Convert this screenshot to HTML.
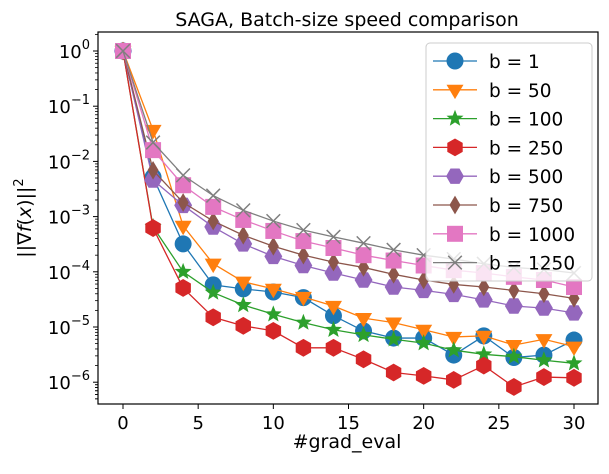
<!DOCTYPE html>
<html><head><meta charset="utf-8"><style>
body{margin:0;background:#fff;}
svg{font-family:"DejaVu Sans","Liberation Sans",sans-serif;}
</style></head><body>
<svg id="chart" width="609" height="469" viewBox="0 0 609 469" xmlns="http://www.w3.org/2000/svg">
<rect width="609" height="469" fill="#fff"/>
<text x="347" y="26" font-size="19" text-anchor="middle">SAGA, Batch-size speed comparison</text>
<text x="347" y="448" font-size="19" text-anchor="middle">#grad_eval</text>
<text transform="translate(31,218) rotate(-90)" font-size="19" text-anchor="middle">||∇<tspan font-style="italic">f</tspan>(<tspan font-style="italic">x</tspan>)||<tspan dy="-8" font-size="13">2</tspan></text>
<g id="axes"></g>
<g id="series"></g>
<g id="legend"></g>
</svg>
<script>
const xs = [0,2,4,6,8,10,12,14,16,18,20,22,24,26,28,30];
const labels = ["b = 1","b = 50","b = 100","b = 250","b = 500","b = 750","b = 1000","b = 1250"];
const s1 = [1,5.2e-3,3.2e-4,5.8e-5,4.9e-5,4.3e-5,3.4e-5,1.6e-5,8.5e-6,6.3e-6,6.3e-6,3.1e-6,6.9e-6,2.8e-6,3.1e-6,5.8e-6];
const s50 = [1,3.7e-2,6.8e-4,1.4e-4,6.6e-5,4.9e-5,3.5e-5,2.4e-5,1.45e-5,1.2e-5,8.9e-6,6.6e-6,6.9e-6,4.7e-6,6.0e-6,4.4e-6];
const s100 = [1,6.5e-4,1.0e-4,4.2e-5,2.5e-5,1.7e-5,1.2e-5,8.9e-6,7.2e-6,6.0e-6,5.1e-6,3.8e-6,3.2e-6,2.9e-6,2.5e-6,2.2e-6];
const s250 = [1,6.2e-4,5.1e-5,1.5e-5,1.05e-5,8.5e-6,4.2e-6,4.2e-6,2.6e-6,1.5e-6,1.3e-6,1.1e-6,2.0e-6,8.2e-7,1.24e-6,1.2e-6];
const s500 = [1,4.6e-3,1.6e-3,6.5e-4,3.2e-4,1.9e-4,1.3e-4,9.5e-5,7.1e-5,5.3e-5,4.6e-5,3.9e-5,3.1e-5,2.4e-5,2.2e-5,1.8e-5];
const s750 = [1,6.9e-3,1.8e-3,8.3e-4,4.6e-4,2.9e-4,2.0e-4,1.5e-4,1.2e-4,9.0e-5,7.1e-5,5.9e-5,5.3e-5,4.6e-5,4.0e-5,3.3e-5];
const s1000 = [1,1.6e-2,3.7e-3,1.5e-3,8.7e-4,5.5e-4,3.6e-4,2.7e-4,2.0e-4,1.6e-4,1.3e-4,1.07e-4,9.5e-5,8.1e-5,7.1e-5,5.3e-5];
const s1250 = [1,2.2e-2,5.6e-3,2.4e-3,1.3e-3,8.3e-4,5.7e-4,4.3e-4,3.3e-4,2.5e-4,2.0e-4,1.7e-4,1.4e-4,1.2e-4,1.1e-4,9.5e-5];
const xTicks = [0,5,10,15,20,25,30];
const yTickExps = [0,-1,-2,-3,-4,-5,-6];

const NS="http://www.w3.org/2000/svg";
const L=98,R=598,T=32,B=404;
function sx(v){return 123+(v-0)*(574-123)/30;}
function sy(v){return 51-Math.log10(v)*55.2;}
function mk(tag,attrs,parent){const e=document.createElementNS(NS,tag);for(const k in attrs)e.setAttribute(k,attrs[k]);parent.appendChild(e);return e;}

const axes=document.getElementById('axes');
const frame=mk('rect',{x:L,y:T,width:R-L,height:B-T,fill:'none',stroke:'#000','stroke-width':1.2},axes);


xTicks.forEach(t=>{
  const x=sx(t);
  const tk=mk('line',{x1:x,x2:x,y1:B,y2:B+5,stroke:'#000'},axes);
  
  
  const tx=mk('text',{x:x,y:B+25,'font-size':18,'text-anchor':'middle'},axes);
  tx.textContent=t;
  
  
});
yTickExps.forEach(e=>{
  const y=sy(Math.pow(10,e));
  const tk=mk('line',{x1:L-5,x2:L,y1:y,y2:y,stroke:'#000'},axes);
  
  
  const tx=mk('text',{x:L-8,y:y+7,'font-size':18,'text-anchor':'end'},axes);
  tx.innerHTML='10<tspan dy="-9" font-size="13">'+(e<0?'−'+(-e):e)+'</tspan>';
  
  
  for(let m=2;m<=9;m++){
    const yy=sy(m*Math.pow(10,e-1));
    if(yy>B||yy<T) continue;
    const mt=mk('line',{x1:L-3,x2:L,y1:yy,y2:yy,stroke:'#000','stroke-width':0.8},axes);
    
    
  }
});
for(let m=2;m<=9;m++){const yy=sy(m*1e-7);if(yy<=B){const mt=mk('line',{x1:L-3,x2:L,y1:yy,y2:yy,stroke:'#000','stroke-width':0.8},axes);}}
for(let m=2;m<=3;m++){const yy=sy(m);if(yy>=T){const mt=mk('line',{x1:L-3,x2:L,y1:yy,y2:yy,stroke:'#000','stroke-width':0.8},axes);}}

const allSeries=[s1,s50,s100,s250,s500,s750,s1000,s1250];
const colors=['#1f77b4','#ff7f0e','#2ca02c','#d62728','#9467bd','#8c564b','#e377c2','#7f7f7f'];
const shapes=['o','v','*','h','H','d','s','x'];
function marker(shape,x,y,c,parent){
  const r=8.5;let el;
  if(shape==='o') el=mk('circle',{cx:x,cy:y,r:r,fill:c},parent);
  else if(shape==='v') el=mk('polygon',{points:`${x-r},${y-r*0.6} ${x+r},${y-r*0.6} ${x},${y+r*1.1}`,fill:c},parent);
  else if(shape==='s') el=mk('rect',{x:x-r+0.5,y:y-r+0.5,width:2*r-1,height:2*r-1,fill:c},parent);
  else if(shape==='d') el=mk('polygon',{points:`${x},${y-r*1.1} ${x+r*0.65},${y} ${x},${y+r*1.1} ${x-r*0.65},${y}`,fill:c},parent);
  else if(shape==='x') el=mk('path',{d:`M${x-r*0.8},${y-r*0.8}L${x+r*0.8},${y+r*0.8}M${x-r*0.8},${y+r*0.8}L${x+r*0.8},${y-r*0.8}`,stroke:c,'stroke-width':1.5,fill:'none'},parent);
  else if(shape==='*'){
    const pts=[];for(let i=0;i<10;i++){const a=-Math.PI/2+i*Math.PI/5;const rr=i%2?r*0.45:r*1.05;pts.push((x+rr*Math.cos(a)).toFixed(1)+','+(y+rr*Math.sin(a)).toFixed(1));}
    el=mk('polygon',{points:pts.join(' '),fill:c},parent);
  } else {
    const pts=[];const rr=r*1.05;
    for(let i=0;i<6;i++){const a=(shape==='h'?Math.PI/2:0)+i*Math.PI/3;pts.push((x+rr*Math.cos(a)).toFixed(1)+','+(y+rr*Math.sin(a)).toFixed(1));}
    el=mk('polygon',{points:pts.join(' '),fill:c},parent);
  }
  return el;
}
const sg=document.getElementById('series');
allSeries.forEach((s,i)=>{
  const g=mk('g',{},sg);
  
  
  const pl=mk('polyline',{points:s.map((v,j)=>sx(xs[j])+','+sy(v)).join(' '),fill:'none',stroke:colors[i],'stroke-width':1.3},g);
  
  
  s.forEach((v,j)=>{
    const m=marker(shapes[i],sx(xs[j]),sy(v),colors[i],g);
    
    
  });
});
const lg=document.getElementById('legend');
const box=mk('rect',{x:426,y:43,width:166,height:238,rx:4,fill:'#fff','fill-opacity':0.8,stroke:'#ccc'},lg);


labels.forEach((lab,i)=>{
  const y=61+i*28.8;
  const g=mk('g',{},lg);
  
  
  mk('line',{x1:433,x2:477,y1:y,y2:y,stroke:colors[i],'stroke-width':1.3},g);
  marker(shapes[i],455,y,colors[i],g);
  const t=mk('text',{x:489,y:y+7,'font-size':18.5},g);
  t.textContent=lab;
});
</script>
</body></html>
